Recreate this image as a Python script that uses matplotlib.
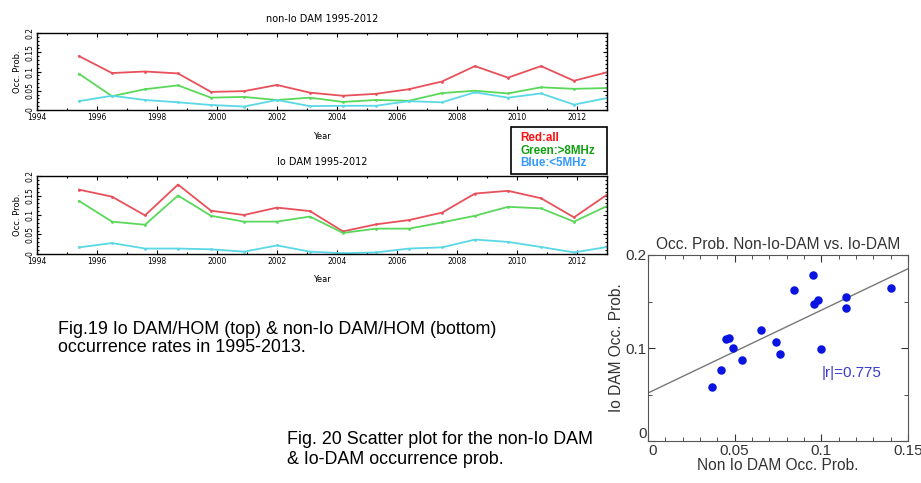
import numpy as np
import matplotlib
matplotlib.use('Agg')
import matplotlib.pyplot as plt
from matplotlib.ticker import MultipleLocator

# Time axis (mid-points of each interval)
years = [1995.4, 1996.5, 1997.6, 1998.7, 1999.8, 2000.9, 2002.0, 2003.1, 2004.2,
         2005.3, 2006.4, 2007.5, 2008.6, 2009.7, 2010.8, 2011.9, 2013.0]

# non-Io DAM occurrence probability
nonio_all = [0.140, 0.096, 0.100, 0.095, 0.047, 0.049, 0.065, 0.045, 0.037,
             0.042, 0.054, 0.074, 0.114, 0.084, 0.114, 0.076, 0.098]
nonio_high = [0.094, 0.036, 0.054, 0.064, 0.032, 0.034, 0.026, 0.032, 0.021,
              0.026, 0.024, 0.044, 0.050, 0.043, 0.059, 0.055, 0.057]
nonio_low = [0.023, 0.037, 0.026, 0.020, 0.013, 0.009, 0.026, 0.010, 0.011,
             0.011, 0.023, 0.020, 0.046, 0.032, 0.043, 0.014, 0.031]

# Io DAM occurrence probability
io_all = [0.165, 0.147, 0.099, 0.178, 0.111, 0.100, 0.119, 0.110, 0.058,
          0.076, 0.087, 0.106, 0.155, 0.162, 0.143, 0.094, 0.152]
io_high = [0.136, 0.083, 0.075, 0.150, 0.098, 0.083, 0.083, 0.096, 0.054,
           0.065, 0.065, 0.081, 0.098, 0.121, 0.117, 0.083, 0.123]
io_low = [0.017, 0.028, 0.014, 0.014, 0.012, 0.006, 0.022, 0.006, 0.002,
          0.004, 0.014, 0.017, 0.037, 0.031, 0.018, 0.004, 0.018]

year_ticks = list(range(1994, 2013, 2))
prob_ticks = [0, 0.05, 0.1, 0.15, 0.2]
prob_labels = ['0', '0.05', '0.1', '0.15', '0.2']
r_label = '|r|=0.775'

red = '#e8505a'
green = '#5ad85a'
cyan = '#5ad8e6'

W, H = 921, 483


def px_axes(fig, x0, y0, x1, y1):
    # axes from pixel box (top-left origin)
    return fig.add_axes([x0 / W, 1 - y1 / H, (x1 - x0) / W, (y1 - y0) / H])


def time_panel(ax, title, s_all, s_high, s_low):
    ax.plot(years, s_all, color=red, lw=1.3, marker='.', ms=2)
    ax.plot(years, s_high, color=green, lw=1.3, marker='.', ms=2)
    ax.plot(years, s_low, color=cyan, lw=1.3, marker='.', ms=2)
    ax.set_xlim(1994, 2013)
    ax.set_ylim(0, 0.2)
    ax.set_xticks(year_ticks)
    ax.xaxis.set_minor_locator(MultipleLocator(1))
    ax.set_yticks(prob_ticks)
    ax.set_yticklabels(prob_labels, rotation=90, va='center')
    ax.yaxis.set_minor_locator(MultipleLocator(0.01))
    ax.tick_params(which='both', direction='in', top=True, right=True,
                   labelsize=5.5, pad=2, width=0.8)
    ax.tick_params(which='major', length=3)
    ax.tick_params(which='minor', length=1.5)
    for lab in ax.get_xticklabels() + ax.get_yticklabels():
        lab.set_family('DejaVu Sans')
    for s in ax.spines.values():
        s.set_linewidth(1.0)
    ax.set_title(title, fontsize=7, pad=8, family='DejaVu Sans')
    ax.set_xlabel('Year', fontsize=6, labelpad=7, family='DejaVu Sans')
    ax.set_ylabel('Occ. Prob.', fontsize=6, labelpad=2, family='DejaVu Sans')


plt.rcParams['font.family'] = ['Liberation Sans', 'DejaVu Sans']
fig = plt.figure(figsize=(9.21, 4.83), dpi=100)

ax1 = px_axes(fig, 37, 33, 607, 110)
time_panel(ax1, 'non-Io DAM 1995-2012', nonio_all, nonio_high, nonio_low)

ax2 = px_axes(fig, 37, 176, 607, 254)
time_panel(ax2, 'Io DAM 1995-2012', io_all, io_high, io_low)

# Legend box
fig.patches.append(plt.Rectangle((511 / W, 1 - 174 / H), 96 / W, 47 / H,
                                 transform=fig.transFigure, fill=True,
                                 facecolor='white', edgecolor='black', lw=1.2,
                                 zorder=5))
fig.text(520 / W, 1 - 138 / H, 'Red:all', color='#ff1010', fontsize=8.4,
         fontweight='bold', va='center', zorder=6)
fig.text(520 / W, 1 - 151 / H, 'Green:>8MHz', color='#10a010', fontsize=8.4,
         fontweight='bold', va='center', zorder=6)
fig.text(520 / W, 1 - 163 / H, 'Blue:<5MHz', color='#3399ff', fontsize=8.4,
         fontweight='bold', va='center', zorder=6)

# Captions
fig.text(58 / W, 1 - 329 / H, 'Fig.19 Io DAM/HOM (top) & non-Io DAM/HOM (bottom)',
         fontsize=12.9, va='center')
fig.text(58 / W, 1 - 348 / H, 'occurrence rates in 1995-2013.',
         fontsize=12.9, va='center')
fig.text(287 / W, 1 - 440 / H, 'Fig. 20 Scatter plot for the non-Io DAM',
         fontsize=12.9, va='center')
fig.text(287 / W, 1 - 459 / H, '& Io-DAM occurrence prob.',
         fontsize=12.9, va='center')

# Scatter plot
ax3 = px_axes(fig, 648, 255, 908, 441)
ax3.scatter(nonio_all, io_all, s=26, color='#0a14e0', zorder=3)
coef = np.polyfit(nonio_all, io_all, 1)
xfit = np.array([0, 0.15])
ax3.plot(xfit, np.polyval(coef, xfit), color='#777777', lw=1.0, zorder=2)
ax3.text(0.1, 0.069, r_label, color='#3a3ad0', fontsize=11)
ax3.set_xlim(0, 0.15)
ax3.set_ylim(0, 0.2)
ax3.set_xticks([0, 0.05, 0.1, 0.15])
ax3.set_xticklabels(['0', '0.05', '0.1', '0.15'])
ax3.set_yticks([0, 0.1, 0.2])
ax3.set_yticklabels(['0', '0.1', '0.2'])
ax3.xaxis.set_minor_locator(MultipleLocator(0.01))
ax3.yaxis.set_minor_locator(MultipleLocator(0.05))
ax3.tick_params(which='both', direction='in', top=True, right=True,
                labelsize=11, colors='#333333', pad=2)
ax3.tick_params(axis='y', pad=1)
ax3.tick_params(which='major', length=5)
ax3.tick_params(which='minor', length=3)
# corner zeros sit apart as in the original
ax3.get_yticklabels()[0].set_va('bottom')
ax3.get_xticklabels()[0].set_ha('left')
for s in ax3.spines.values():
    s.set_color('#555555')
ax3.set_title('Occ. Prob. Non-Io-DAM vs. Io-DAM', fontsize=11.2, color='#333333',
              pad=4)
ax3.set_xlabel('Non Io DAM Occ. Prob.', fontsize=11.2, color='#333333', labelpad=0)
ax3.set_ylabel('Io DAM Occ. Prob.', fontsize=11.2, color='#333333', labelpad=1)

fig.savefig('out.png', dpi=100)
